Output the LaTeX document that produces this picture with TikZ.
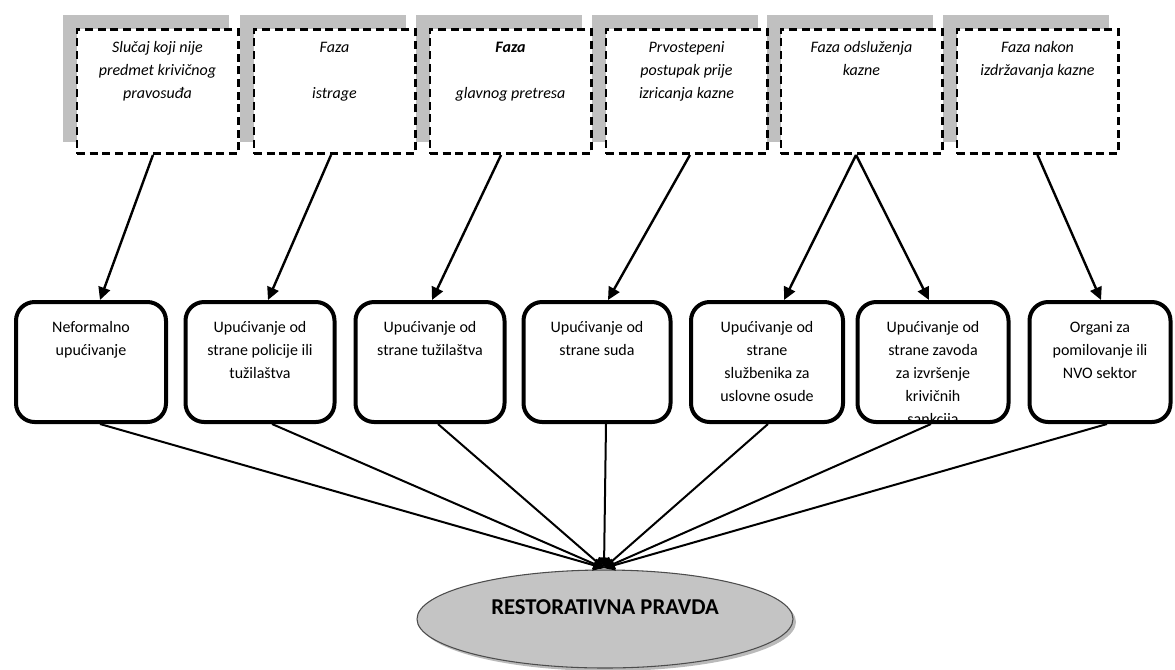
\documentclass[tikz,border=0pt]{standalone}
\usepackage{fontspec}
\setmainfont{Carlito}
\usetikzlibrary{arrows.meta,calc,shapes.geometric}
\definecolor{shadowgray}{HTML}{C0C0C0}
\definecolor{ellgray}{HTML}{C4C4C4}
\begin{document}
\begin{tikzpicture}[x=0.75pt,y=-0.75pt,
  shadowbox/.style={fill=shadowgray,draw=none,minimum width=124.5pt,minimum height=95.25pt,inner sep=0pt},
  topbox/.style={draw=black,line width=2pt,dash pattern=on 6pt off 3.5pt,fill=white,minimum width=121pt,minimum height=93.2pt,inner sep=0pt},
  toptext/.style={font=\fontsize{12}{17.25}\selectfont\itshape,align=center,inner sep=0pt,anchor=north},
  midbox/.style={draw=black,line width=3pt,rounded corners=14pt,minimum height=90pt,inner sep=0pt},
  midtext/.style={font=\fontsize{12}{17.25}\selectfont,align=center,inner sep=0pt,anchor=north},
  arr/.style={-{Triangle[length=9.5pt,width=9pt]},line width=1.8pt},
  conn/.style={-{Triangle[length=8pt,width=8pt]},line width=1.5pt},
]
\useasboundingbox (0,0) rectangle (1175,669);

% shadows of top boxes
\node[shadowbox] (s1) at (145.5,78.5) {};
\node[shadowbox] (s2) at (322.5,78.5) {};
\node[shadowbox] (s3) at (498.5,78.5) {};
\node[shadowbox] (s4) at (674.5,78.5) {};
\node[shadowbox] (s5) at (849.5,78.5) {};
\node[shadowbox] (s6) at (1025.5,78.5) {};

% top dashed boxes
\node[topbox] (t1) at (157.5,91.5) {};
\node[topbox] (t2) at (334.5,91.5) {};
\node[topbox] (t3) at (510.5,91.5) {};
\node[topbox] (t4) at (686.5,91.5) {};
\node[topbox] (t5) at (861.5,91.5) {};
\node[topbox] (t6) at (1037.5,91.5) {};

\node[toptext] (t1t) at ([yshift=-6pt]t1.north) {\strut Slučaj koji nije\\predmet krivičnog\\pravosuđa};
\node[toptext] (t2t) at ([yshift=-6pt]t2.north) {\strut Faza\\[17.25pt]istrage};
\node[toptext] (t3t) at ([yshift=-6pt]t3.north) {\strut\textbf{Faza}\\[17.25pt]glavnog pretresa};
\node[toptext] (t4t) at ([yshift=-6pt]t4.north) {\strut Prvostepeni\\postupak prije\\izricanja kazne};
\node[toptext] (t5t) at ([yshift=-6pt]t5.north) {\strut Faza odsluženja\\kazne};
\node[toptext] (t6t) at ([yshift=-6pt]t6.north) {\strut Faza nakon\\izdržavanja kazne};

% middle boxes
\node[midbox,minimum width=112.5pt] (m1) at (91,362) {};
\node[midbox,minimum width=111.75pt] (m2) at (260,362) {};
\node[midbox,minimum width=111.75pt] (m3) at (430,362) {};
\node[midbox,minimum width=110.25pt] (m4) at (597,362) {};
\node[midbox,minimum width=114pt] (m5) at (767,362) {};
\node[midbox,minimum width=113.25pt] (m6) at (933,362) {};
\node[midbox,minimum width=105.75pt] (m7) at (1100,362) {};

\node[midtext] (m1t) at ([yshift=-12pt]m1.north) {\strut Neformalno\\upućivanje};
\node[midtext] (m2t) at ([yshift=-12pt]m2.north) {\strut Upućivanje od\\strane policije ili\\tužilaštva};
\node[midtext] (m3t) at ([yshift=-12pt]m3.north) {\strut Upućivanje od\\strane tužilaštva};
\node[midtext] (m4t) at ([yshift=-12pt]m4.north) {\strut Upućivanje od\\strane suda};
\node[midtext] (m5t) at ([yshift=-12pt]m5.north) {\strut Upućivanje od\\strane\\službenika za\\uslovne osude};
\begin{scope}
  \clip ($(m6.south west)+(3,-3)$) rectangle ($(m6.north east)+(-3,3)$);
  \node[midtext] (m6t) at ([yshift=-12pt]m6.north) {\strut Upućivanje od\\strane zavoda\\za izvršenje\\krivičnih\\sankcija};
\end{scope}
\node[midtext] (m7t) at ([yshift=-12pt]m7.north) {\strut Organi za\\pomilovanje ili\\NVO sektor};

% ellipse
\node[ellipse,fill=black!45,draw=none,minimum width=282pt,minimum height=73.5pt,inner sep=0pt,opacity=0.6] (rpsh) at (608,622) {};
\node[ellipse,fill=ellgray,draw=black!70,line width=0.8pt,minimum width=282pt,minimum height=73.5pt,inner sep=0pt] (rp) at (605,619) {};
\node[font=\fontsize{17}{20}\selectfont\bfseries,inner sep=0pt] (rpt) at ($(rp.center)+(0,-12)$) {RESTORATIVNA PRAVDA};

% arrows top -> middle
\draw[arr] ([xshift=-3.4pt]t1.south) -- ([xshift=6.75pt]m1.north);
\draw[arr] ([xshift=-2.6pt]t2.south) -- ([xshift=6pt]m2.north);
\draw[arr] ([xshift=-7.1pt]t3.south) -- ([xshift=1.5pt]m3.north);
\draw[arr] ([xshift=2.6pt]t4.south) -- ([xshift=8.25pt]m4.north);
\draw[arr] ([xshift=-4.1pt]t5.south) -- ([xshift=12.75pt]m5.north);
\draw[arr] ([xshift=-4.1pt]t5.south) -- ([xshift=-3pt]m6.north);
\draw[arr] (t6.south) -- ([xshift=0.75pt]m7.north);

% connectors middle -> ellipse
\coordinate (conv) at ([xshift=-0.75pt,yshift=1pt]rp.north);
\draw[conn] ([xshift=6.75pt]m1.south) -- (conv);
\draw[conn] ([xshift=9pt]m2.south) -- (conv);
\draw[conn] ([xshift=6pt]m3.south) -- (conv);
\draw[conn] ([xshift=6.75pt]m4.south) -- (conv);
\draw[conn] ([xshift=0.75pt]m5.south) -- (conv);
\draw[conn] ([xshift=-1.5pt]m6.south) -- (conv);
\draw[conn] ([xshift=5.25pt]m7.south) -- (conv);
\end{tikzpicture}
\end{document}
